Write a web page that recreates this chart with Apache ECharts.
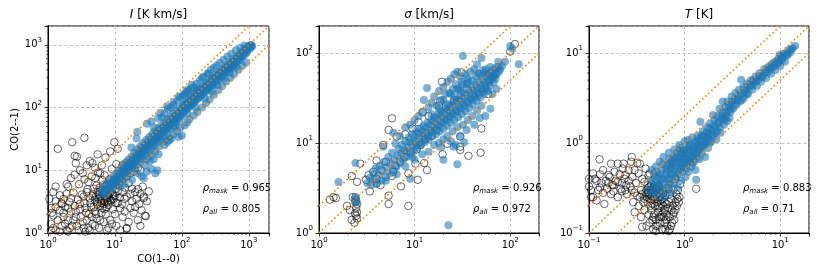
<!DOCTYPE html>
<html><head><meta charset="utf-8">
<script src="https://cdn.jsdelivr.net/npm/echarts@6/dist/echarts.min.js"></script>
<style>html,body{margin:0;padding:0;background:#fff}#c{width:830px;height:277px}</style>
</head><body><div id="c"></div>
<script>
// ---------------- data ----------------
const panelTitles = ['{i|I} [K km/s]', '{i|σ} [km/s]', '{i|T} [K]'];
const axisRanges = [[1, 2000], [1, 200], [0.1, 20]];
const rhoMask = ['0.965', '0.926', '0.883'];
const rhoAll = ['0.805', '0.972', '0.71'];
const xLabel = 'CO(1--0)';
const yLabel = 'CO(2--1)';
const minorTickMultipliers = [2, 3, 4, 5, 6, 7, 8, 9];

const I_mask = [[6.2,4.1],[6.8,4.6],[7.0,5.5],[7.5,4.3],[7.8,6.2],[8.1,5.0],[8.4,7.0],[8.8,5.6],[9.0,4.8],[9.3,6.6],[9.6,8.0],[9.9,5.9],[10.2,7.2],[10.5,9.0],[10.8,6.4],[11.2,8.1],[11.5,10.2],[11.9,7.4],[12.3,9.3],[12.7,11.5],[13.1,8.6],[13.5,10.6],[14.0,12.8],[14.4,9.5],[14.9,13.5],[15.4,11.2],[16.0,14.8],[16.5,10.6],[17.0,13.0],[17.6,16.5],[17.6,23],[18.2,12.4],[18.8,15.7],[19.4,19.0],[20.1,14.2],[20.8,17.6],[21,32],[21.5,21.5],[21.6,41],[22.2,16.0],[23.0,19.6],[23.8,24.0],[24.6,18.0],[25.5,22.4],[26.4,27.2],[27.3,20.5],[28.3,25.0],[29.3,30.5],[30.3,23.0],[31.4,28.0],[32.5,34.0],[33.6,26.0],[34.8,31.5],[36.0,38.0],[37.3,29.0],[38,48],[38.6,35.0],[40.0,42.0],[41.4,32.5],[42.9,39.0],[44.4,47.0],[46.0,36.0],[47.6,43.5],[48,83],[49.3,52.0],[51.0,40.0],[52.8,48.0],[54.7,58.0],[56.6,44.0],[58.6,54.0],[60.7,65.0],[62.8,49.0],[65.0,60.0],[67.3,72.0],[69.7,55.0],[72.2,66.0],[74.7,80.0],[77.4,60.0],[80.1,73.0],[82.9,88.0],[85.8,67.0],[88.8,82.0],[92,98],[95,75],[98,90],[102,110],[105,84],[109,100],[113,122],[117,93],[121,112],[125,135],[130,104],[134,124],[139,150],[144,115],[149,138],[154,165],[160,128],[165,153],[170,203],[171,182],[177,143],[184,170],[190,200],[197,158],[204,188],[211,222],[219,175],[226,208],[234,246],[243,195],[251,232],[260,272],[269,216],[279,258],[289,300],[299,240],[309,285],[320,330],[331,265],[343,316],[355,365],[368,295],[381,350],[394,402],[408,328],[422,388],[437,445],[453,365],[469,430],[485,490],[502,405],[520,478],[538,540],[557,450],[577,530],[597,595],[618,500],[640,590],[662,655],[686,560],[710,650],[735,720],[761,625],[788,720],[815,790],[844,700],[874,800],[905,870],[937,780],[970,900],[1004,960],[1040,870],[1075,1000],[1120,950],
[44,68],[60,105],[90,150],[140,230],[200,300],[250,350],[30,55],[120,190],[110,160],[75,120],[35,60],
[25,8],[30,9.5],[35,10.5],[40,9],[43,10],[28,12],[33,14],[38,15],[22,9],[18,7],[14,6],[12,5.5],[20,10.5],[27,7.5],[45,18],[55,25],[65,30],
[6.5,5.0],[7.2,4.0],[7.9,5.4],[8.6,6.1],[9.2,5.2],[9.7,7.1],[10.3,5.6],[10.9,7.8],[11.4,6.2],[12.0,8.6],[12.6,7.0],[13.3,9.8],[13.9,7.6],[14.6,11.0],[15.2,8.4],[15.9,12.2],[16.7,9.4],[17.4,11.8],[18.1,14.3],[18.9,10.8],[19.7,13.2],[20.5,16.2],[21.3,12.0],[22.0,14.8],[22.8,18.4],[23.6,13.6],[24.4,16.5],[25.2,20.5],[26.0,15.2],[26.8,18.8],[27.8,23.5],[28.8,17.5],[29.8,21.5],[30.8,26.5],[31.9,19.8],[33.0,24.0],[34.2,29.5],[35.4,22.0],[36.6,27.0],[37.9,33.0],[39.2,25.0],[40.6,30.5],[42.1,37.0],[43.6,28.0],[45.1,34.0],[46.7,41.0],[48.4,31.0],[50.1,38.5],[51.9,46.0],[53.8,35.0],[55.7,43.0],[57.6,50.5],[59.7,40.0],[61.8,48.5],[64.0,57.0],[66.2,45.0],[68.6,54.0],[71.0,63.0],[73.5,51.0],[76.1,61.0],[78.8,70.0],[81.6,57.0],[84.5,68.0],[87.5,78.0],[90.6,64.0],[93.8,76.0],[97,86],[100,72],[104,96],[107,108],[111,88],[115,105],[119,118],[123,98],[128,116],[132,130],[137,110],[142,128],[147,145],[152,122],[157,142],[163,160],[168,135],[174,158],[180,180],[187,150],[193,176],[200,195],[208,168],[215,198],[223,215],[231,185],[239,220],[247,240],[256,205],[265,245],[275,265],[285,228],[295,270],[305,295],[315,255],[326,300],[337,325],[349,280],[361,330],[374,355],[387,310],[400,365],[415,395],[430,345],[445,405],[461,430],[477,385],[494,450],[511,470],[529,425],[548,495],[567,520],[587,470],[608,550],[629,570],[651,520],[674,610],[698,630],[723,580],[748,680],[775,700],[802,650],[830,760],[860,770],[890,720],[922,850],[954,830],[988,930],[1022,910],[1060,990],[1095,960],
[50,70],[55,80],[62,95],[68,100],[75,110],[85,130],[95,145],[105,160],[115,175],[125,180],[135,200],[150,210],[165,240],[185,270],[210,310],[240,350],[270,400],[300,430],[330,470],[370,520],[420,580],[480,650],[550,720],[640,820],[750,900],[860,980],
[55,30],[65,33],[75,38],[85,42],[95,48],[110,52],[120,58],[100,36],[90,34],[130,65],[150,75],[170,85],[200,100],[230,118],[260,135],[300,160],[350,190],[400,220],[460,260],[530,300],[600,340],[700,400],[800,470],[900,530],
[40,20],[45,24],[35,17],[30,15],[60,28],[70,32],[80,50],[120,80],[160,100],[220,140],[280,180],[340,230],[420,290],[520,360],[640,440]];

const I_all = [[1.4,22],[2.3,28],[3.5,33],[2.5,17],[2.7,16.5],[2.6,13],[1.2,4.5],[1.3,3.2],[1.1,2.5],[1.5,4],[1.7,3.5],[1.9,6],[2.0,5.5],[2.2,7.5],[2.5,8.5],[3.0,10],[3.3,9],[3.8,12],[4.2,14],[4.6,13],[5.5,18],[6.4,12],[7.2,16],[8.5,20],[9.8,28],[11,22],[5.0,11],[6.0,9],[2.9,6],[3.5,7.2],[4.0,6.5],[4.5,8],[5.1,7.5],[5.6,9.2],[6.5,7],[7.0,8.3],[7.6,6],[8.3,7.2],[9.0,6.3],[10,5],[11,6],[12,7],[13,4.5],[14,5.3],[15,3.8],[16,6.2],[17,4.2],[18,3.2],[20,2.6],[22,5],[24,4.2],[25,2.3],[28,1.9],[27,3.8],[19,2.1],[16,1.5],[15,1.2],[13,1.8],[12,2.5],[11,3],[10,2],[9.5,3.5],[9,1.4],[8,2.8],[8,1.2],[7.3,2],[7,3.2],[6.5,2.5],[6,1.6],[6,3.7],[5.5,2.9],[5.5,4.5],[5,1.3],[5,2.2],[5,3.4],[4.7,4.2],[4.5,1.8],[4.4,2.6],[4.2,3.6],[4,1.2],[3.9,5],[3.7,2.1],[3.5,3],[3.3,1.5],[3.2,4.1],[3,2.4],[2.9,1.1],[2.8,3.4],[2.6,1.8],[2.5,2.7],[2.4,4.4],[2.3,1.3],[2.2,2.2],[2.1,3.1],[2,1.6],[1.9,1.1],[1.8,2.6],[1.7,1.8],[1.6,1.3],[1.5,2.3],[1.4,1.6],[1.3,1.1],[1.2,1.9],[1.1,1.4],[1.05,3.5],[1.15,2.1],
[5.2,3.8],[5.8,4.1],[6.2,3.3],[6.6,4.4],[7.0,3.9],[7.4,3.5],[7.8,4.2],[8.2,3.7],[6.4,4.9],[5.9,5.3],[7.2,4.7],[8.6,4.5],[9.2,4.2],[5.4,3.1],[6.9,2.9],[7.9,3.1],[6.0,2.7],[7.5,2.6],[8.8,3.3],[9.6,3.9],[6.7,5.8],[5.3,5.7],[4.8,5.1],[4.6,3.9],[6.3,3.0],[7.1,3.6],[8.0,4.0],[8.4,3.4],[6.8,4.1],[7.6,3.2],[5.7,3.5],
[18,5.1],[21,3.5],[23,2.9],[26,5.5],[30,3.2],[32,4.6],[20,4.5],[17,2.5],[22,1.6],[14,2.2],[12,1.1],[24,1.3],[27,3.6],[29,1.85],[22,11],[24,10],[19,9.5],[15,1.17],[10.5,1.3],[3.6,1.05],[2.0,1.05],[1.6,2.9],[1.3,5.5],[9,10.5],[10.5,12.5],[12.5,9],[15,8],[17,9],[13,12],
[1.2,1.2],[1.5,1.05],[1.8,1.4],[2.1,1.2],[2.4,1.6],[2.7,1.3],[3.1,1.8],[3.4,1.2],[3.8,1.6],[4.2,1.1],[4.6,1.4],[5.3,1.7],[5.8,1.2],[6.8,1.5],[7.6,1.1],[8.5,1.6],[2.6,2.2],[3.0,2.9],[3.6,2.5],[4.1,2.0],[4.8,2.6],[5.2,2.0],[6.3,2.1],[7.0,2.4],[2.0,2.5],[1.7,2.1],[1.3,2.6],[3.4,3.8],[4.3,3.0],[3.8,4.5],[2.2,3.6],[1.9,4.2],[1.6,3.0],[1.1,1.1],[9.3,2.4],[10.5,3.0],[11.8,3.7],[12.8,2.9],[13.9,3.5],[10,4],[11,4.6]];

const S_mask = [[1.6,3.7],[2.4,6.0],[2.4,2.3],[2.42,2.45],[2.45,2.2],[2.38,2.38],
[3.2,3.6],[3.4,4.1],[3.5,3.4],[3.7,4.6],[3.8,3.9],[3.9,5.2],[4.0,3.5],[4.2,4.4],[4.3,5.6],[4.5,3.8],[4.6,4.9],[4.7,9.1],[4.8,6.2],[5.0,4.2],[5.1,5.4],[5.3,7.0],[5.5,4.6],[5.6,5.9],[5.8,7.8],[6.0,5.0],[6.1,6.5],[6.3,9.9],[6.5,5.5],[6.6,7.2],[6.8,8.6],[7.0,6.0],[7.2,7.7],[7.4,9.5],[7.6,6.5],[7.8,8.3],[8.0,10.5],[8.2,7.0],[8.5,9.0],[8.7,11.5],[9.0,4.0],[9.0,7.6],[9.3,9.8],[9.5,12.6],[9.8,8.2],[10.1,10.5],[10.4,13.4],[10.7,8.8],[11.0,11.2],[11.3,14.5],[11.7,9.5],[12.0,12.0],[12.4,15.6],[12.8,10.3],[13.2,12.9],[13.5,41],[13.6,16.8],[14.0,11.0],[14.4,13.8],[14.9,18.0],[15.3,11.8],[15.8,14.8],[16.3,19.5],[16.8,12.6],[17.3,16.0],[17.8,21.0],[18.3,13.5],[18.9,17.2],[19.5,22.5],[20.0,14.5],[20.6,18.5],[21.2,24.5],[21.8,15.6],[22.5,20.0],[22.6,1.22],[23.2,26.5],[23.9,16.8],[24.6,21.5],[25.3,28.5],[25.5,9.1],[26.1,18.0],[26.9,23.0],[27.7,30.5],[28.0,5.8],[28.5,19.3],[29.4,25.0],[30.3,33.0],[31.2,21.0],[32.0,93],[32.1,27.0],[33.1,36.0],[34.1,22.5],[35.1,29.0],[36.2,39.0],[37.3,24.5],[38.4,31.5],[39.6,42.0],[40.8,27.0],[42.0,34.0],[43.3,45.0],[44.6,29.5],[45.9,37.0],[47.3,48.0],[48.7,32.0],[50.2,40.0],[50,88],[51.7,52.0],[53.3,35.0],[54.9,43.0],[55,20],[56.5,56.0],[58.2,38.0],[60.0,47.0],[62,24],[61.8,60.0],[63.7,51.0],[65.6,64.0],[67.6,55.0],[69.6,68.0],[71.7,58.0],[73.9,70.0],[76.1,62.0],[78.4,66.0],[82,72],[88,80],[100,120],[105,112],[123,75],
[16,33],[18,38],[20,42],[22,48],[24,52],[26,58],[28,62],[19,30],[21,35],[25,40],[30,55],[34,58],[38,62],[42,66],[46,60],[52,65],[56,66],[45,75],[40,50],[35,45],[14,25],[12,22],[10,18],[9,16],[8,15],[6,13],[7,12],[11,20],[15,28],[27,45],[31,48],[36,52],[58,58],[62,70],[66,56],[70,52],[75,80],[12.5,30],[17,26],[23,36],[29,40],
[14,8],[16,9.5],[18,10],[20,11],[22,12],[25,13.5],[28,15],[32,16],[36,18],[40,20],[45,23],[50,26],[30,12],[35,14],[24,10.5],[19,9],[12,7.5],[10,6.5],[8,5.5],[6.5,4.5],[5,3.8],[42,16],[48,19],[33,10.2],[27,9.5],[20,6.5],[65,35],[72,40],
[8.3,8.0],[8.9,10.2],[9.4,7.0],[9.9,11.5],[10.5,9.4],[11.1,12.8],[11.6,10.0],[12.2,13.5],[12.7,11.2],[13.3,14.8],[13.9,12.0],[14.6,16.0],[15.2,13.2],[15.9,17.5],[16.6,14.2],[17.4,19.0],[18.1,15.5],[18.9,20.5],[19.8,17.0],[20.7,22.0],[21.6,18.2],[22.5,23.5],[23.5,19.6],[24.6,25.5],[25.7,21.0],[26.8,27.5],[28.0,22.5],[29.2,29.5],[30.5,24.2],[31.9,31.5],[33.3,26.0],[34.8,33.5],[36.3,28.0],[37.9,36.0],[39.6,30.0],[41.4,38.5],[43.2,32.5],[45.1,41.0],[47.1,35.0],[49.2,44.0],[51.4,37.5],[53.7,47.0],[56.1,40.0],[58.6,50.0],[61.2,43.0],[64,54],[67,47],[70,58],[20,30],[24,35],[28,40],[32,45],[36,48],[44,55],[48,58],[54,60],[30,38],[26,33],[22,27],[18,24],[15,21]];

const S_all = [[1.3,2.35],[1.42,2.5],[1.5,2.45],[1.96,2.0],[2.1,1.8],[2.2,1.4],[2.25,2.5],[2.35,1.3],[2.4,2.5],[2.45,2.3],[2.5,2.1],[2.45,1.9],[2.5,1.7],[2.45,1.55],[2.5,1.45],[2.4,2.2],[2.38,1.65],[2.2,4.3],[2.5,3.7],[2.7,5.9],[3.3,4.4],[3.4,2.9],[4.0,6.4],[4.0,3.6],[4.0,4.0],[4.4,3.4],[4.7,9.5],[5.35,14],[5.35,2.1],[5.35,2.6],[5.8,18.8],[5.8,4.3],[6.3,5.6],[6.5,11.8],[7.2,3.3],[8.6,4.6],[8.6,2.0],[10.2,5.9],[10.8,3.9],[12.2,22],[12.6,6.0],[13.5,5.0],[17.9,26],[18.5,29],[19.3,48],[19.6,7.5],[30,11.8],[30,9.1],[30,8.4],[31,61],[36.6,7.2],[49,7.8],[50,14.5],[59,35],[100,104],[112,126],[3.7,4.8],[3.1,3.9],[4.5,5.0],[5.0,6.2],[6.0,4.8],[7.0,6.2],[7.8,7.0],[9.0,8.0],[10.5,8.5],[11.5,9.5],[13,11],[15,12],[17,14],[8,12.5],[9.5,14.5],[11,17],[14,20],[24,22],[26,30],[35,40],[40,34],[22,9.8]];

const T_mask = [[0.42,0.3],[0.45,0.38],[0.46,0.27],[0.48,0.45],[0.5,0.33],[0.5,0.55],[0.52,0.26],[0.53,0.42],[0.55,0.62],[0.56,0.3],[0.58,0.5],[0.6,0.36],[0.6,0.7],[0.62,0.25],[0.63,0.44],[0.65,0.58],[0.66,0.32],[0.68,0.78],[0.7,0.4],[0.7,0.52],[0.72,0.28],[0.74,0.64],[0.75,0.46],[0.77,0.36],[0.78,0.85],[0.8,0.55],[0.82,0.42],[0.84,0.7],[0.85,0.32],[0.87,0.5],[0.88,0.95],[0.9,0.6],[0.92,0.38],[0.94,0.78],[0.95,0.48],[0.97,0.66],[1.0,1.05],[1.0,0.55],[1.02,0.42],[1.05,0.85],[1.08,1.08],[1.08,0.62],[1.1,0.48],[1.12,0.95],[1.15,0.72],[1.18,0.55],[1.2,1.15],[1.22,0.82],[1.25,0.62],[1.28,1.0],[1.3,0.5],[1.32,0.39],[1.33,0.75],[1.36,1.2],[1.4,0.9],[1.43,0.66],[1.46,1.73],[1.48,1.05],[1.5,1.23],[1.52,0.78],[1.56,1.35],[1.6,0.95],[1.64,0.7],[1.68,1.15],[1.72,1.5],[1.76,0.88],[1.8,1.28],[1.85,1.65],[1.9,1.05],[1.95,1.4],[1.98,2.05],[2.0,1.2],[2.05,1.8],[2.1,1.5],[2.15,1.1],[2.2,2.0],[2.26,1.65],[2.32,2.4],[2.38,1.3],[2.45,1.85],[2.5,2.9],[2.5,2.2],[2.58,1.6],[2.65,2.5],[2.72,2.0],[2.8,2.9],[2.88,2.3],[2.95,1.9],[3.0,2.7],[3.1,3.3],[3.2,2.4],[3.3,3.0],[3.4,3.6],[3.5,2.7],[3.6,3.2],[3.7,3.9],[3.8,2.9],[3.9,5.05],[3.95,3.5],[4.1,4.2],[4.2,3.2],[4.35,3.8],[4.5,4.6],[4.6,3.5],[4.8,4.2],[4.95,5.0],[5.1,3.9],[5.3,4.6],[5.5,5.5],[5.7,4.3],[5.9,5.1],[6.1,6.0],[6.3,4.8],[6.6,5.6],[6.8,6.6],[7.1,5.3],[7.4,6.2],[7.7,7.2],[8.0,5.9],[8.3,6.9],[8.6,7.9],[8.9,6.5],[9.3,7.6],[9.6,8.6],[9.8,9.5],[10.0,7.2],[10.4,8.4],[10.8,9.8],[11.2,8.0],[11.7,9.4],[12.2,10.8],[12.8,10.2],[13.5,11.3],[14.3,12],
[0.45,0.5],[0.55,0.45],[0.65,0.48],[0.75,0.58],[0.85,0.62],[0.95,0.72],[0.6,0.4],[0.7,0.6],[0.8,0.68],[0.9,0.82],[1.0,0.75],[1.1,0.88],[1.2,0.7],[1.3,0.85],[1.4,1.1],[0.55,0.35],[0.5,0.28],[0.58,0.28],[0.68,0.35],[0.72,0.45],[0.78,0.5],[0.92,0.52],[1.05,0.6],[1.15,0.62],[1.25,0.78],[1.38,0.8],[1.5,0.9],[1.62,1.05],[1.75,1.2],[1.85,1.0],[2.2,1.35],[2.6,1.8],[3.0,2.2],
[0.47,0.32],[0.49,0.4],[0.51,0.48],[0.53,0.34],[0.57,0.4],[0.59,0.58],[0.61,0.3],[0.64,0.52],[0.67,0.4],[0.69,0.66],[0.71,0.34],[0.73,0.55],[0.76,0.7],[0.79,0.42],[0.81,0.6],[0.83,0.78],[0.86,0.45],[0.89,0.68],[0.91,0.88],[0.93,0.56],[0.96,0.6],[0.98,0.85],[1.01,0.68],[1.04,0.52],[1.07,0.75],[1.1,0.65],[1.13,0.82],[1.17,0.95],[1.21,0.6],[1.24,0.9],[1.27,0.7],[1.31,1.05],[1.35,0.68],[1.39,0.95],[1.44,0.85],[1.49,1.15],[1.54,0.95],[1.59,1.2],[1.65,1.0],[1.7,1.3],[1.78,1.1],[1.83,1.45],[1.92,1.25],[2.02,1.55],[2.12,1.3],[2.22,1.7],[2.34,1.5],[2.42,2.0],[2.55,1.9],[2.68,2.2],[2.78,1.75],[2.9,2.6],[3.05,2.4],[3.15,2.9],[3.35,2.6],[3.55,3.0],[3.75,3.4],[4.0,3.0],[4.25,4.0],[4.45,3.5],[4.7,4.4],[5.0,4.4],[5.2,5.0],[5.6,4.9],[6.0,5.5],[6.4,5.4],[6.9,6.0],[7.3,6.8],[7.8,6.6],[8.2,7.5],[8.7,7.2],[9.2,8.2],[9.7,7.9],[10.2,9.2],[10.6,8.9],[11.4,9.9],[12.0,9.6],[13.0,11.0]];

const T_all = [[0.1,0.33],[0.105,0.25],[0.11,0.46],[0.11,0.25],[0.115,0.4],[0.12,0.23],[0.125,0.3],[0.129,0.66],[0.13,0.45],[0.135,0.36],[0.14,0.5],[0.14,0.28],[0.145,0.21],[0.15,0.38],[0.155,0.31],[0.16,0.44],[0.165,0.42],[0.17,0.59],[0.17,0.27],[0.175,0.34],[0.18,0.29],[0.185,0.48],[0.19,0.38],[0.2,0.59],[0.2,0.37],[0.2,0.25],[0.21,0.45],[0.215,0.31],[0.22,0.29],[0.225,0.52],[0.23,0.59],[0.235,0.4],[0.24,0.44],[0.245,0.34],[0.25,0.27],[0.26,0.5],[0.27,0.33],[0.275,0.62],[0.28,0.7],[0.285,0.42],[0.29,0.22],[0.3,0.5],[0.31,0.36],[0.32,0.26],[0.32,0.6],[0.33,0.46],[0.34,0.59],[0.35,0.3],[0.36,0.4],[0.37,0.22],[0.38,0.37],[0.39,0.52],[0.4,0.3],[0.41,0.27],[0.42,0.44],[0.43,0.46],[0.44,0.33],
[0.4,0.25],[0.42,0.28],[0.44,0.3],[0.46,0.26],[0.47,0.32],[0.48,0.29],[0.49,0.24],[0.5,0.27],[0.51,0.31],[0.52,0.22],[0.53,0.28],[0.54,0.25],[0.55,0.3],[0.56,0.23],[0.57,0.27],[0.45,0.35],[0.5,0.36],[0.43,0.24],[0.46,0.21],[0.41,0.34],[0.39,0.28],[0.48,0.33],[0.52,0.34],[0.58,0.24],[0.6,0.28],[0.62,0.22],[0.63,0.26],
[0.45,0.18],[0.48,0.16],[0.5,0.14],[0.52,0.12],[0.47,0.11],[0.5,0.105],[0.55,0.19],[0.57,0.15],[0.6,0.17],[0.62,0.13],[0.58,0.11],[0.65,0.16],[0.67,0.19],[0.7,0.15],[0.72,0.12],[0.68,0.105],[0.53,0.17],[0.43,0.13],[0.4,0.12],[0.42,0.16],[0.38,0.18],[0.35,0.15],[0.55,0.13],[0.63,0.11],[0.75,0.2],[0.77,0.17],[0.8,0.22],[0.78,0.14],[0.65,0.21],[0.72,0.24],[0.82,0.27],[0.85,0.3],[0.76,0.3],[0.7,0.27],[0.68,0.31],[0.36,0.117],[0.47,0.15],[0.33,0.2],[0.3,0.17],
[1.32,0.31],[0.9,0.35],[0.8,0.4],[0.88,0.25],
[0.42,0.32],[0.44,0.27],[0.46,0.3],[0.48,0.25],[0.5,0.31],[0.52,0.29],[0.54,0.33],[0.56,0.26],[0.45,0.23],[0.49,0.2],[0.53,0.2],[0.57,0.21],[0.6,0.2],[0.62,0.18],[0.46,0.14],[0.5,0.12],[0.54,0.15],[0.58,0.16],[0.61,0.15],[0.64,0.14],[0.66,0.12],[0.7,0.11],[0.74,0.13],[0.76,0.16],[0.8,0.18],[0.83,0.2],[0.84,0.24],[0.87,0.22],[0.73,0.18],[0.69,0.22],[0.44,0.2],[0.41,0.22],[0.38,0.24],[0.36,0.27],[0.34,0.25],[0.3,0.28],[0.28,0.3],[0.26,0.38],[0.24,0.3],[0.22,0.36],[0.18,0.34],[0.16,0.36],[0.13,0.32],[0.12,0.38],[0.1,0.4],[0.105,0.3]];

const maskData = [I_mask, S_mask, T_mask];
const allData = [I_all, S_all, T_all];

// ---------------- layout ----------------
const FONT = 'DejaVu Sans';
const grids = [
  {left: 48, top: 26, width: 221, height: 207},
  {left: 319, top: 26, width: 220, height: 207},
  {left: 589, top: 26, width: 220, height: 207}
];

function powLabel(v) {
  const l = Math.log10(v);
  const e = Math.round(l);
  if (Math.abs(l - e) > 1e-6) return '';
  return '{b|10}{s|' + (e < 0 ? '\u2212' + (-e) : e) + '}';
}
const tickRich = {
  b: {fontSize: 10, fontFamily: FONT, color: '#000'},
  s: {fontSize: 7, fontFamily: FONT, color: '#000', padding: [0, 0, 9, 0]}
};

function minorValues(r) {
  const out = [];
  const lo = Math.floor(Math.log10(r[0])), hi = Math.ceil(Math.log10(r[1]));
  for (let e = lo; e <= hi; e++) {
    for (const m of minorTickMultipliers) {
      const v = m * Math.pow(10, e);
      if (v >= r[0] * 0.999 && v <= r[1] * 1.001) out.push([v, v]);
    }
  }
  return out;
}

const xAxes = [], yAxes = [], series = [], graphics = [];
grids.forEach((g, i) => {
  const r = axisRanges[i];
  const common = {
    gridIndex: i, type: 'log', logBase: 10, min: r[0], max: r[1], splitNumber: 5,
    axisLine: {show: true, onZero: false, lineStyle: {color: '#000', width: 1}},
    axisTick: {show: true, inside: false, length: 3.5, lineStyle: {color: '#000', width: 0.8}},
    axisLabel: {formatter: powLabel, rich: tickRich, color: '#000', hideOverlap: false},
    splitLine: {show: true, lineStyle: {color: '#b0b0b0', type: [3, 2.5], width: 0.8}},
    minorTick: {show: false}, minorSplitLine: {show: false}
  };
  xAxes.push(Object.assign({}, common, {axisLabel: Object.assign({}, common.axisLabel, {margin: 4})}));
  yAxes.push(Object.assign({}, common, {axisLabel: Object.assign({}, common.axisLabel, {margin: 6})}));

  series.push({
    type: 'scatter', xAxisIndex: i, yAxisIndex: i, data: allData[i], symbol: 'circle', symbolSize: 7.5,
    itemStyle: {color: 'rgba(0,0,0,0)', borderColor: 'rgba(0,0,0,0.72)', borderWidth: 1}, silent: true, z: 2
  });
  series.push({
    type: 'scatter', xAxisIndex: i, yAxisIndex: i, data: maskData[i], symbol: 'circle', symbolSize: 8,
    itemStyle: {color: '#1f77b4', opacity: 0.58, borderWidth: 0}, silent: true, z: 3
  });
  const lines = [
    [[r[0], r[0]], [r[1], r[1]]],
    [[r[0], 2 * r[0]], [r[1] / 2, r[1]]],
    [[2 * r[0], r[0]], [r[1], r[1] / 2]]
  ];
  lines.forEach(d => series.push({
    type: 'line', xAxisIndex: i, yAxisIndex: i, data: d, showSymbol: false, symbol: 'none', clip: true,
    lineStyle: {color: '#ff7f0e', width: 1.6, type: [1.6, 2.6], cap: 'butt'}, silent: true, z: 4
  }));
  series.push({
    type: 'custom', xAxisIndex: i, yAxisIndex: i, data: minorValues(r), silent: true, z: 5, clip: false,
    renderItem: function (params, api) {
      const v = api.value(0);
      const cs = params.coordSys;
      const px = api.coord([v, r[0]]);
      const py = api.coord([r[0], v]);
      const st = {stroke: '#000', lineWidth: 0.6};
      return {type: 'group', children: [
        {type: 'line', shape: {x1: px[0], y1: cs.y + cs.height, x2: px[0], y2: cs.y + cs.height + 2}, style: st},
        {type: 'line', shape: {x1: cs.x, y1: py[1], x2: cs.x - 2, y2: py[1]}, style: st}
      ]};
    }
  });

  graphics.push({type: 'text', x: g.left + g.width / 2, y: 15, silent: true, style: {
    text: panelTitles[i], align: 'center', verticalAlign: 'middle', fill: '#000',
    fontSize: 12, fontFamily: FONT,
    rich: {i: {fontSize: 12, fontFamily: FONT, fontStyle: 'italic', fill: '#000', color: '#000'}}
  }});
  const rich = {
    r: {fontSize: 10, fontFamily: FONT, fontStyle: 'italic', color: '#000'},
    m: {fontSize: 7, fontFamily: FONT, fontStyle: 'italic', color: '#000', padding: [5, 0, 0, 0]}
  };
  const tx = g.left + 0.7 * g.width;
  graphics.push({type: 'text', x: tx, y: g.top + g.height * (1 - 0.216), silent: true, style: {
    text: '{r|ρ}{m|mask} = ' + rhoMask[i], align: 'left', verticalAlign: 'middle', fill: '#000', fontSize: 10, fontFamily: FONT, rich: rich
  }});
  graphics.push({type: 'text', x: tx, y: g.top + g.height * (1 - 0.115), silent: true, style: {
    text: '{r|ρ}{m|all} = ' + rhoAll[i], align: 'left', verticalAlign: 'middle', fill: '#000', fontSize: 10, fontFamily: FONT, rich: rich
  }});
});

graphics.push({type: 'text', x: grids[0].left + grids[0].width / 2, y: 259, silent: true, style: {
  text: xLabel, align: 'center', verticalAlign: 'middle', fill: '#000', fontSize: 10, fontFamily: FONT}});
graphics.push({type: 'text', x: 15, y: grids[0].top + grids[0].height / 2, rotation: Math.PI / 2, silent: true, style: {
  text: yLabel, align: 'center', verticalAlign: 'middle', fill: '#000', fontSize: 10, fontFamily: FONT}});

const chart = echarts.init(document.getElementById('c'), null, {renderer: 'canvas'});
chart.setOption({
  animation: false,
  backgroundColor: '#fff',
  textStyle: {fontFamily: FONT},
  grid: grids.map(g => Object.assign({show: true, borderColor: '#000', borderWidth: 1, backgroundColor: '#fff', containLabel: false, outerBoundsMode: 'none'}, g)),
  xAxis: xAxes,
  yAxis: yAxes,
  series: series,
  graphic: graphics
});
</script>
</body></html>
